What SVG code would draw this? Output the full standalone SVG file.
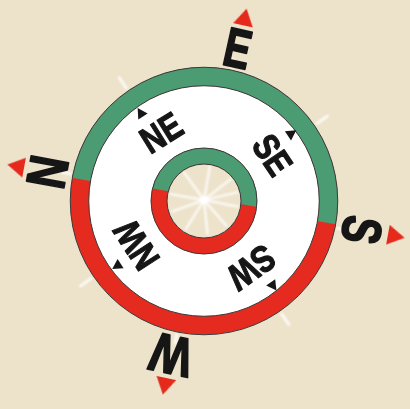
<svg xmlns="http://www.w3.org/2000/svg" width="410" height="409" viewBox="0 0 410 409">
<style>
.card{font-family:"Liberation Sans",Arial,sans-serif;font-weight:bold;font-size:55px;fill:#161616;stroke:#161616;stroke-width:1.8;stroke-linejoin:round;text-anchor:middle}
.inter{font-family:"Liberation Sans",Arial,sans-serif;font-weight:bold;font-size:37px;fill:#161616;stroke:#161616;stroke-width:1.2;stroke-linejoin:round;text-anchor:middle}
.tick{stroke:#ffffff;stroke-width:3;stroke-linecap:round;opacity:0.85}
.spoke{stroke:#ffffff;stroke-width:2.4;stroke-linecap:round;opacity:0.85}
.edge{fill:none;stroke:#3a3a3a;stroke-width:1}
.redtri{fill:#e52b1e}
.blktri{fill:#161616}
</style>
<defs>
<clipPath id="topOuter"><polygon points="-91.5,148.8 499.5,253.2 569,-140.8 -21.9,-245.2"/></clipPath>
<clipPath id="topInner"><polygon points="-91.5,145.4 499.5,249.8 569,-144.2 -21.9,-248.6"/></clipPath>
<filter id="soft" x="-20%" y="-20%" width="140%" height="140%"><feGaussianBlur stdDeviation="0.6"/></filter>
<filter id="blur1" x="-50%" y="-50%" width="200%" height="200%"><feGaussianBlur stdDeviation="0.9"/></filter>
</defs>
<rect x="0" y="0" width="410" height="409" fill="#ede2ca"/>

<g id="ticks" filter="url(#blur1)">
<g transform="translate(204 201)">
<line class="tick" x1="0" y1="-137" x2="0" y2="-150" transform="rotate(-34.5)"/>
<line class="tick" x1="0" y1="-137" x2="0" y2="-150" transform="rotate(55.5)"/>
<line class="tick" x1="0" y1="-137" x2="0" y2="-150" transform="rotate(145.5)"/>
<line class="tick" x1="0" y1="-137" x2="0" y2="-150" transform="rotate(235.5)"/>
<line class="tick" x1="0" y1="-136" x2="0" y2="-145" transform="rotate(11.5)"/>
<line class="tick" x1="0" y1="-136" x2="0" y2="-145" transform="rotate(101.5)"/>
<line class="tick" x1="0" y1="-136" x2="0" y2="-145" transform="rotate(191.5)"/>
<line class="tick" x1="0" y1="-136" x2="0" y2="-145" transform="rotate(281.5)"/>
</g>
</g>

<g id="dial">
<circle cx="204" cy="201" r="115" fill="#ffffff"/>
<circle cx="204" cy="201" r="124.5" fill="none" stroke="#e52a1f" stroke-width="18.5"/>
<circle cx="204" cy="201" r="124.5" fill="none" stroke="#4b9b73" stroke-width="18.5" clip-path="url(#topOuter)"/>
<circle cx="204" cy="201" r="37" fill="#ede2ca"/>
<g id="spokes" transform="translate(204 200)" filter="url(#blur1)">
<line class="spoke" x1="0" y1="-3" x2="0" y2="-34" transform="rotate(10)"/>
<line class="spoke" x1="0" y1="-3" x2="0" y2="-34" transform="rotate(52)"/>
<line class="spoke" x1="0" y1="-3" x2="0" y2="-34" transform="rotate(77)"/>
<line class="spoke" x1="0" y1="-3" x2="0" y2="-34" transform="rotate(101)"/>
<line class="spoke" x1="0" y1="-3" x2="0" y2="-34" transform="rotate(139)"/>
<line class="spoke" x1="0" y1="-3" x2="0" y2="-34" transform="rotate(174)"/>
<line class="spoke" x1="0" y1="-3" x2="0" y2="-34" transform="rotate(212)"/>
<line class="spoke" x1="0" y1="-3" x2="0" y2="-34" transform="rotate(250)"/>
<line class="spoke" x1="0" y1="-3" x2="0" y2="-34" transform="rotate(280)"/>
<line class="spoke" x1="0" y1="-3" x2="0" y2="-34" transform="rotate(324)"/>
<circle cx="0" cy="0" r="4" fill="#ffffff"/>
</g>
<circle cx="204" cy="201" r="45" fill="none" stroke="#e52a1f" stroke-width="16"/>
<circle cx="204" cy="201" r="45" fill="none" stroke="#4b9b73" stroke-width="16" clip-path="url(#topInner)"/>
<circle class="edge" cx="204" cy="201" r="133.75"/>
<circle class="edge" cx="204" cy="201" r="115.25"/>
<circle class="edge" cx="204" cy="201" r="53"/>
<circle class="edge" cx="204" cy="201" r="37"/>
</g>

<g id="label-E" transform="translate(204 201) rotate(12.5) translate(0 -157)">
<text class="card" transform="scale(0.72 1)" x="0" y="19.7">E</text>
<polygon class="redtri" filter="url(#soft)" points="0,-40 -10,-23 10,-23"/>
</g>
<g id="label-S" transform="translate(204 201) rotate(100.4) translate(0 -161)">
<text class="card" transform="scale(0.74 1)" x="0" y="19.7">S</text>
<polygon class="redtri" filter="url(#soft)" points="0,-43 -10,-26 10,-26"/>
</g>
<g id="label-W" transform="translate(204 201) rotate(192) translate(0 -158)">
<text class="card" transform="scale(0.8 1)" x="0" y="19.7">W</text>
<polygon class="redtri" filter="url(#soft)" points="0,-40 -10,-23 10,-23"/>
</g>
<g id="label-N" transform="translate(204 201) rotate(280.5) translate(0 -160)">
<text class="card" transform="scale(0.8 1)" x="0" y="19.7">N</text>
<polygon class="redtri" filter="url(#soft)" points="0,-40 -10,-23 10,-23"/>
</g>

<g id="label-NE" transform="translate(204 201) rotate(-32) translate(0 -81)">
<text class="inter" transform="scale(0.82 1)" x="0" y="13.2">NE</text>
<polygon class="blktri" points="-7,-33 -12.5,-23 -1.5,-23"/>
</g>
<g id="label-SE" transform="translate(204 201) rotate(56) translate(0 -83)">
<text class="inter" transform="scale(0.82 1)" x="0" y="13.2">SE</text>
<polygon class="blktri" points="-7,-33 -12.5,-23 -1.5,-23"/>
</g>
<g id="label-SW" transform="translate(204 201) rotate(144.5) translate(0 -82)">
<text class="inter" transform="scale(0.82 1)" x="0" y="13.2">SW</text>
<polygon class="blktri" points="-7,-33 -12.5,-23 -1.5,-23"/>
</g>
<g id="label-NW" transform="translate(204 201) rotate(237) translate(0 -81)">
<text class="inter" transform="scale(0.82 1)" x="0" y="13.2">NW</text>
<polygon class="blktri" points="-7,-33 -12.5,-23 -1.5,-23"/>
</g>
</svg>
